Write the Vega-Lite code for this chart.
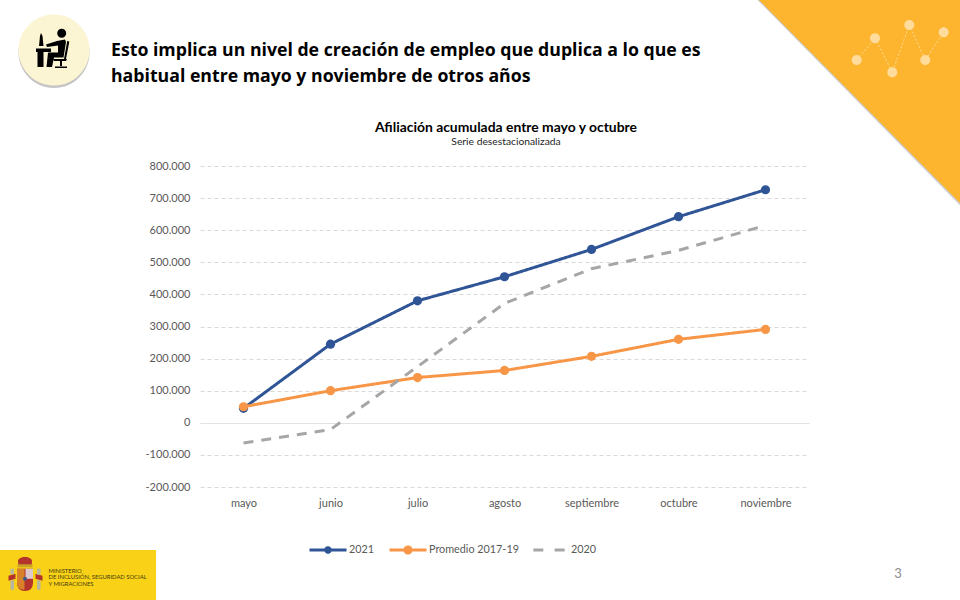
{
  "$schema": "https://vega.github.io/schema/vega-lite/v6.json",
  "width": 609,
  "height": 321,
  "autosize": "none",
  "padding": {"left": 200, "top": 166, "right": 151, "bottom": 113},
  "background": "white",
  "config": {"view": {"stroke": null}, "font": "Lato"},
  "title": {
    "text": "Afiliación acumulada entre mayo y octubre",
    "subtitle": "Serie desestacionalizada",
    "anchor": "middle",
    "dx": 1.5,
    "dy": 147.5,
    "offset": 0,
    "font": "Lato",
    "fontSize": 13.9,
    "fontWeight": "bold",
    "color": "black",
    "subtitleFont": "Lato",
    "subtitleFontSize": 10.3,
    "subtitleColor": "#262626",
    "subtitlePadding": 2
  },
  "layer": [
    {
      "data": {
        "values": [
          {"mes": "mayo", "serie": "2021", "afiliacion": 45000},
          {"mes": "junio", "serie": "2021", "afiliacion": 245000},
          {"mes": "julio", "serie": "2021", "afiliacion": 380000},
          {"mes": "agosto", "serie": "2021", "afiliacion": 455000},
          {"mes": "septiembre", "serie": "2021", "afiliacion": 540000},
          {"mes": "octubre", "serie": "2021", "afiliacion": 642000},
          {"mes": "noviembre", "serie": "2021", "afiliacion": 726000},
          {"mes": "mayo", "serie": "Promedio 2017-19", "afiliacion": 50000},
          {"mes": "junio", "serie": "Promedio 2017-19", "afiliacion": 100000},
          {"mes": "julio", "serie": "Promedio 2017-19", "afiliacion": 141000},
          {"mes": "agosto", "serie": "Promedio 2017-19", "afiliacion": 163000},
          {"mes": "septiembre", "serie": "Promedio 2017-19", "afiliacion": 207000},
          {"mes": "octubre", "serie": "Promedio 2017-19", "afiliacion": 260000},
          {"mes": "noviembre", "serie": "Promedio 2017-19", "afiliacion": 291000},
          {"mes": "mayo", "serie": "2020", "afiliacion": -63000},
          {"mes": "junio", "serie": "2020", "afiliacion": -21000},
          {"mes": "julio", "serie": "2020", "afiliacion": 175000},
          {"mes": "agosto", "serie": "2020", "afiliacion": 372000},
          {"mes": "septiembre", "serie": "2020", "afiliacion": 480000},
          {"mes": "octubre", "serie": "2020", "afiliacion": 537000},
          {"mes": "noviembre", "serie": "2020", "afiliacion": 615000}
        ]
      },
      "encoding": {
        "x": {
          "field": "mes",
          "type": "nominal",
          "sort": null,
          "title": null,
          "scale": {"type": "point", "padding": 0.5, "domain": ["mayo", "junio", "julio", "agosto", "septiembre", "octubre", "noviembre"]},
          "axis": {"domain": false, "ticks": false, "grid": false, "labelAngle": 0, "labelAlign": "center", "labelBaseline": "top", "labelPadding": 10, "labelFont": "Lato", "labelFontSize": 11, "labelColor": "#595959"}
        },
        "y": {
          "field": "afiliacion",
          "type": "quantitative",
          "title": null,
          "scale": {"domain": [-200000, 800000], "nice": false},
          "axis": {
            "values": [-200000, -100000, 0, 100000, 200000, 300000, 400000, 500000, 600000, 700000, 800000],
            "labelOverlap": false,
            "domain": false,
            "ticks": false,
            "labelPadding": 10,
            "labelFont": "Lato",
            "labelFontSize": 11,
            "labelColor": "#595959",
            "gridColor": "#D9D9D9",
            "gridDash": {"condition": {"test": "datum.value === 0", "value": [1, 0]}, "value": [4, 3]},
            "labelExpr": "replace(replace(format(datum.value, ','), /,/g, '.'), '\u2212', '-')"
          }
        },
        "color": {
          "field": "serie",
          "type": "nominal",
          "sort": null,
          "title": null,
          "scale": {"domain": ["2021", "Promedio 2017-19", "2020"], "range": ["#2F5597", "#F79646", "#A6A6A6"]},
          "legend": {
            "orient": "none",
            "legendX": 108,
            "legendY": 364,
            "direction": "horizontal",
            "columns": 3,
            "gridAlign": "none",
            "columnPadding": 8,
            "symbolSize": 1369,
            "symbolStrokeWidth": 2.8,
            "labelFont": "Lato",
            "labelFontSize": 10.8,
            "labelColor": "#595959",
            "labelOffset": 1,
            "encode": {
              "symbols": {
                "update": {
                  "shape": {"signal": "datum.value == '2021' ? 'M-1,0L1,0M0.13,0A0.13,0.13 0 1 1 -0.13,0A0.13,0.13 0 1 1 0.13,0Z' : datum.value == '2020' ? 'M-0.9,0L-0.25,0M0.25,0L0.9,0' : 'M-1,0L1,0M0.17,0A0.17,0.17 0 1 1 -0.17,0A0.17,0.17 0 1 1 0.17,0Z'"},
                  "fill": {"signal": "scale('color', datum.value)"}
                }
              }
            }
          }
        }
      },
      "layer": [
        {
          "mark": {"type": "line", "strokeWidth": 3},
          "encoding": {
            "strokeDash": {
              "field": "serie",
              "type": "nominal",
              "legend": null,
              "scale": {"domain": ["2021", "Promedio 2017-19", "2020"], "range": [[1, 0], [1, 0], [10, 8]]}
            }
          }
        },
        {
          "transform": [{"filter": "datum.serie !== '2020'"}],
          "mark": {"type": "point", "filled": true, "size": 85, "opacity": 1}
        }
      ]
    },
    {
      "data": {"values": [{"ancla": "mayo", "base": 0}]},
      "encoding": {
        "x": {"field": "ancla", "type": "nominal", "title": null},
        "y": {"field": "base", "type": "quantitative", "title": null, "axis": {"values": [-200000, -100000, 0, 100000, 200000, 300000, 400000, 500000, 600000, 700000, 800000], "labelOverlap": false}}
      },
      "layer": [
        {"mark": {"type": "point", "filled": true, "size": 4, "opacity": 0.45, "fill": "#8c8c8c", "shape": "M514,-422.8 L716.5,-422.8 L716.5,-217.5 Z"}},
        {"mark": {"type": "point", "filled": true, "size": 4, "opacity": 1, "fill": "#FDB52F", "shape": "M515.5,-422.8 L716.5,-422.8 L716.5,-219.8 Z"}},
        {"mark": {"type": "point", "filled": false, "size": 4, "opacity": 1, "stroke": "#FFDB94", "strokeWidth": 1, "strokeDash": [2, 2], "shape": "M613.2,-362.8 L631.5,-384.5 L648.8,-350.5 L665.8,-397.8 L681.8,-362.8 L700.2,-390.5"}},
        {"mark": {"type": "point", "filled": true, "size": 4, "opacity": 1, "fill": "#FFDB9C", "shape": "M618.2,-362.8 A5,5 0 1 1 608.2,-362.8 A5,5 0 1 1 618.2,-362.8 Z M636.5,-384.5 A5,5 0 1 1 626.5,-384.5 A5,5 0 1 1 636.5,-384.5 Z M653.8,-350.5 A5,5 0 1 1 643.8,-350.5 A5,5 0 1 1 653.8,-350.5 Z M670.8,-397.8 A5,5 0 1 1 660.8,-397.8 A5,5 0 1 1 670.8,-397.8 Z M686.8,-362.8 A5,5 0 1 1 676.8,-362.8 A5,5 0 1 1 686.8,-362.8 Z M705.2,-390.5 A5,5 0 1 1 695.2,-390.5 A5,5 0 1 1 705.2,-390.5 Z"}},
        {"mark": {"type": "point", "filled": true, "size": 4, "opacity": 0.5, "fill": "#8c8c8c", "shape": "M-225,-370.3 A35.5,35.5 0 1 1 -154,-370.3 A35.5,35.5 0 1 1 -225,-370.3 Z"}},
        {"mark": {"type": "point", "filled": true, "size": 4, "opacity": 1, "fill": "#FBF5D3", "shape": "M-225,-372.8 A35.5,35.5 0 1 1 -154,-372.8 A35.5,35.5 0 1 1 -225,-372.8 Z"}},
        {"mark": {"type": "point", "filled": true, "size": 4, "opacity": 1, "fill": "black", "shape": "M-177.3,-389.5 A4.5,4.5 0 1 1 -186.3,-389.5 A4.5,4.5 0 1 1 -177.3,-389.5 Z M-207.5,-374.3 L-192.5,-374.3 L-192.5,-370.8 L-200,-370.8 L-200,-355.8 L-206,-355.8 L-206,-370.8 L-207.5,-370.8 Z M-202.5,-389.8 L-201,-386.8 L-200,-376.8 L-204.5,-376.8 L-203.5,-386.8 Z M-197.5,-378.3 L-186.5,-381.8 L-178.5,-383.3 L-177.5,-380.8 L-180,-365.3 L-189.5,-365.3 L-191.5,-355.8 L-197,-355.8 L-195.5,-370.3 L-185.5,-370.3 L-185.5,-377.3 L-196.5,-375.8 Z M-176.2,-382.1 L-174.2,-381.1 L-177.5,-363.8 L-179.5,-363.8 Z M-190,-363.8 L-176.5,-363.8 L-177.5,-361.8 L-189.5,-361.8 Z M-183.5,-361.8 L-181.5,-361.8 L-181.5,-356.8 L-183.5,-356.8 Z M-188.5,-356.3 L-176.5,-356.3 L-176.5,-354.8 L-188.5,-354.8 Z"}},
        {"mark": {"type": "point", "filled": true, "size": 4, "opacity": 1, "fill": "#F9D116", "shape": "M-243.5,127.2 H-87.5 V177.2 H-243.5 Z"}},
        {"mark": {"type": "point", "filled": true, "size": 4, "opacity": 1, "fill": "#B4342C", "shape": "M-225.5,138.2 A7,4 0 1 1 -211.5,138.2 L-212,144 L-225,144 Z M-226.5,146 H-210.5 V160 Q-210.5,168.2 -218.5,168.2 Q-226.5,168.2 -226.5,160 Z M-235,153 L-228,151 L-228,156 L-235,158 Z M-208,151 L-201,153 L-201,158 L-208,156 Z"}},
        {"mark": {"type": "point", "filled": true, "size": 4, "opacity": 1, "fill": "#C9A227", "shape": "M-226,141.5 H-211 V144.5 H-226 Z"}},
        {"mark": {"type": "point", "filled": true, "size": 4, "opacity": 1, "fill": "#D9802B", "shape": "M-226.5,146 H-219 V167 Q-226.5,167 -226.5,160 Z"}},
        {"mark": {"type": "point", "filled": true, "size": 4, "opacity": 1, "fill": "#DCC7CC", "shape": "M-218,146 H-210.5 V156 H-218 Z"}},
        {"mark": {"type": "point", "filled": true, "size": 4, "opacity": 1, "fill": "#B9B6A0", "shape": "M-233,146 H-229.5 V151.5 H-233 Z M-233,157.5 H-229.5 V167 H-233 Z M-206.5,146 H-203 V152 H-206.5 Z M-206.5,157.5 H-203 V167 H-206.5 Z"}},
        {"mark": {"type": "point", "filled": true, "size": 4, "opacity": 1, "fill": "#3D5A8A", "shape": "M-216.5,156 A2,2 0 1 1 -220.5,156 A2,2 0 1 1 -216.5,156 Z"}},
        {"mark": {"type": "text", "text": ["MINISTERIO", "DE INCLUSIÓN, SEGURIDAD SOCIAL", "Y MIGRACIONES"], "align": "left", "baseline": "alphabetic", "dx": -195, "dy": 149.9, "lineHeight": 6.8, "fontSize": 5.85, "font": "Lato", "fill": "#3F3A12"}},
        {"mark": {"type": "text", "text": ["Esto implica un nivel de creación de empleo que duplica a lo que es", "habitual entre mayo y noviembre de otros años"], "align": "left", "baseline": "alphabetic", "dx": -132.5, "dy": -366.8, "lineHeight": 26, "fontSize": 17.7, "fontWeight": "bold", "font": "Open Sans", "fill": "black"}},
        {"mark": {"type": "text", "text": "3", "align": "center", "baseline": "alphabetic", "dx": 654.5, "dy": 155, "fontSize": 13, "font": "Lato", "fill": "#8C8C8C"}}
      ]
    }
  ]
}
